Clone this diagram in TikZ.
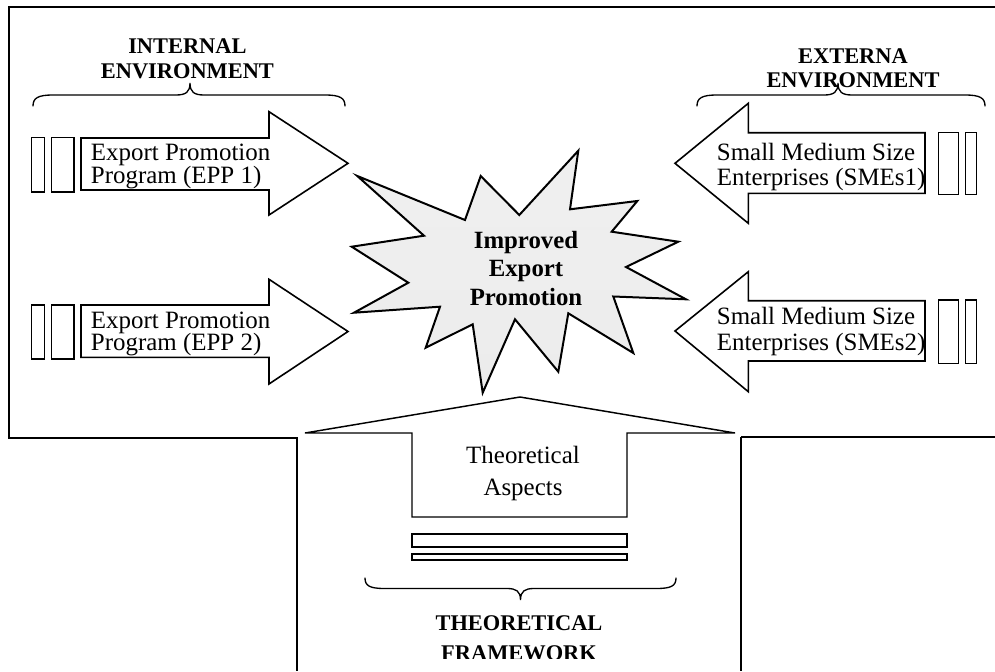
\documentclass[tikz,border=0pt]{standalone}
\usepackage{fontspec}
\setmainfont{Liberation Serif}
% multi-line labels whose baseline is that of their first line
\newcommand{\txtleft}[2]{\vtop{\baselineskip=#1\lineskiplimit=-30pt\lineskip=0pt
  \halign{##\hfil\cr#2\crcr}}}
\newcommand{\txtcenter}[2]{\vtop{\baselineskip=#1\lineskiplimit=-30pt\lineskip=0pt
  \halign{\hfil##\hfil\cr#2\crcr}}}
\begin{document}
\begin{tikzpicture}[x=0.75pt, y=-0.75pt, line join=miter]
\tikzset{
  frameline/.style={line width=1.5pt},
  thinframe/.style={line width=1.1pt},
  arrowshape/.style={draw, line width=1.2pt, fill=white},
  upshape/.style={draw, line width=1.1pt, fill=white},
  tabbox/.style={draw, line width=1pt},
  bracepath/.style={line width=1pt, line cap=round},
  body/.style={font=\fontsize{18.7}{20}\selectfont, inner sep=0pt, anchor=base west},
  bodyc/.style={font=\fontsize{18.7}{20}\selectfont, inner sep=0pt, anchor=base},
  head/.style={font=\bfseries\fontsize{16.8}{18}\selectfont, inner sep=0pt, anchor=base},
  burst/.style={font=\bfseries\fontsize{18.6}{20}\selectfont, inner sep=0pt, anchor=base},
}
\useasboundingbox (0,0) rectangle (995,671);

% outer frame
\draw[frameline] (995,7) -- (9,7) -- (9,438) -- (298,438);
\draw[thinframe] (297,438) -- (297,671);
\draw[frameline] (995,437) -- (741,437);
\draw[thinframe] (741,437) -- (741,671);

% braces
\draw[bracepath] (33,106) .. controls (33,98) and (38,95) .. (53,95) -- (176,95)
  .. controls (186,95) and (190,92) .. (190,83)
  .. controls (190,92) and (194,95) .. (204,95) -- (325,95)
  .. controls (340,95) and (345,98) .. (345,106);
\draw[bracepath] (697,106) .. controls (697,98) and (702,95) .. (717,95) -- (824,95)
  .. controls (834,95) and (838,92) .. (838,83)
  .. controls (838,92) and (842,95) .. (852,95) -- (965,95)
  .. controls (980,95) and (985,98) .. (985,106);
\draw[bracepath] (365,578) .. controls (365,586) and (370,588.5) .. (385,588.5) -- (507,588.5)
  .. controls (516,588.5) and (520.5,591) .. (520.5,600)
  .. controls (520.5,591) and (525,588.5) .. (534,588.5) -- (656,588.5)
  .. controls (671,588.5) and (676,586) .. (676,578);

% block arrows
\path[arrowshape] (81,138) -- (269,138) -- (269,111.7) -- (348,163.3) -- (269,215) -- (269,190) -- (81,190) -- cycle;
\path[arrowshape] (81,305) -- (269,305) -- (269,279.3) -- (348,331.5) -- (269,384) -- (269,357.3) -- (81,357.3) -- cycle;
\path[arrowshape] (925,132.7) -- (748.3,132.7) -- (748.3,103.3) -- (675,163.3) -- (748.3,223.3) -- (748.3,193.3) -- (925,193.3) -- cycle;
\path[arrowshape] (925,300.7) -- (748.3,300.7) -- (748.3,271.7) -- (675,331) -- (748.3,391.7) -- (748.3,361) -- (925,361) -- cycle;
\path[upshape] (520,397) -- (735,433) -- (627,433) -- (627,517) -- (412,517) -- (412,433) -- (305,433) -- cycle;

% tabs beside the arrows
\draw[tabbox] (31.7,137.7) rectangle (44.3,192);
\draw[tabbox] (51.7,137.7) rectangle (74,192);
\draw[tabbox] (31.7,305) rectangle (44.3,359);
\draw[tabbox] (51.7,305) rectangle (74,359);
\draw[tabbox] (938.3,132.7) rectangle (958.3,194.3);
\draw[tabbox] (965.7,132.7) rectangle (976.7,194.3);
\draw[tabbox] (938.3,300) rectangle (958.3,363.3);
\draw[tabbox] (965.7,300) rectangle (976.7,363.3);
\draw[tabbox] (412,534) rectangle (627,547);
\draw[tabbox] (412,554) rectangle (627,560);

% central burst
\path[draw, line width=1.5pt, top color=gray!12, middle color=white, bottom color=gray!15]
  (578.3,150.7) -- (570,209.3) -- (637.3,201) -- (611.7,231.7) -- (678.3,241.7)
  -- (626,267) -- (686,299.3) -- (613.3,296.5) -- (633.3,353) -- (568.3,313.3)
  -- (558.3,371.7) -- (515,319.3) -- (482.7,392.7) -- (472.7,324.3) -- (425.7,347.7)
  -- (440,306.7) -- (354,312.7) -- (408.3,282.7) -- (351.7,246.7) -- (424,235.7)
  -- (357.3,176) -- (465,220) -- (480.7,176) -- (519.3,215) -- cycle;

% labels
\node[head] (internal) at (187.4,53) {\txtcenter{18.75pt}{INTERNAL\cr ENVIRONMENT}};
\node[head] (external) at (853,63) {\txtcenter{18pt}{EXTERNA\cr ENVIRONMENT}};

\node[body] (epp1) at (90.7,160.7) {\txtleft{16.9pt}{Export Promotion\cr Program (EPP 1)}};
\node[body] (epp2) at (90.7,328.3) {\txtleft{16.9pt}{Export Promotion\cr Program (EPP 2)}};

\node[body] (sme1) at (716.7,160) {\txtleft{19pt}{Small Medium Size\cr Enterprises (SMEs1)}};
\node[body] (sme2) at (716.7,324) {\txtleft{19.5pt}{Small Medium Size\cr Enterprises (SMEs2)}};

\node[burst] (goal) at (526,248) {\txtcenter{21.4pt}{Improved\cr Export\cr Promotion}};

\node[bodyc] (theory) at (523,463.3) {\txtcenter{24.3pt}{Theoretical\cr Aspects}};

% the lower label is cut off at its foot
\begin{scope}
  \clip (300,600) rectangle (740,658);
  \node[head] (framework) at (519,630) {\txtcenter{23.2pt}{THEORETICAL\cr FRAMEWORK}};
\end{scope}
\end{tikzpicture}
\end{document}
